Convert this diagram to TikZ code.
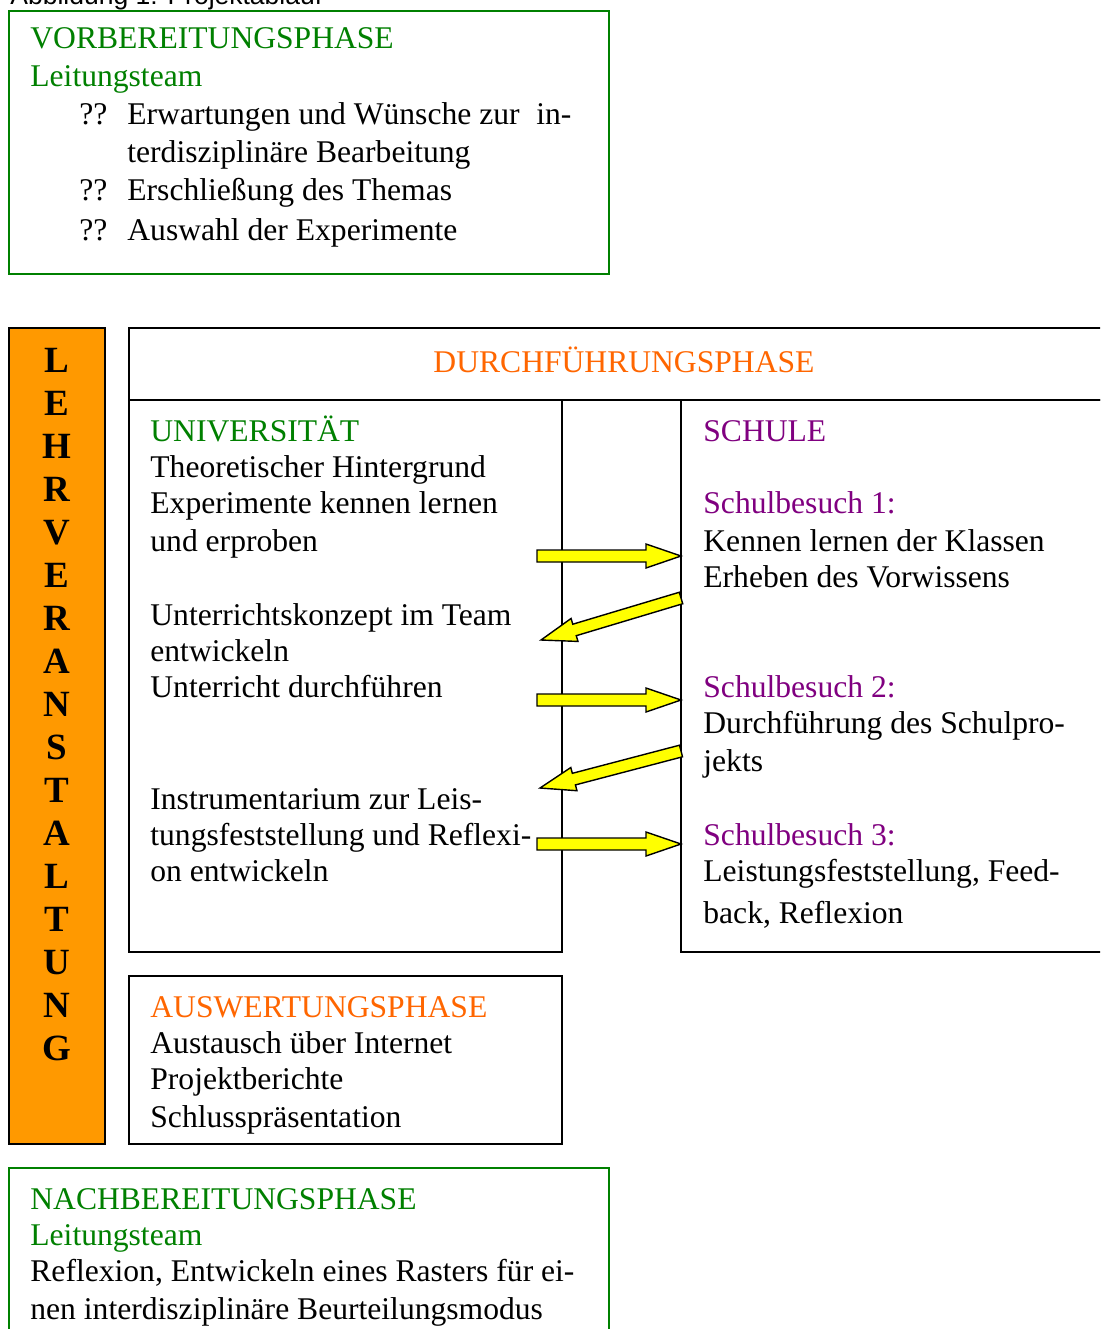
\documentclass[tikz,border=0pt]{standalone}
\usepackage{fontspec}
\setmainfont{Liberation Serif}
\newfontfamily\capfont{Liberation Sans}
\usetikzlibrary{calc}
\definecolor{pgreen}{HTML}{008000}
\definecolor{porange}{HTML}{FF6600}
\definecolor{ppurple}{HTML}{800080}
\definecolor{barorange}{HTML}{FF9900}
\definecolor{ayellow}{HTML}{FFFF00}
\newcommand\blockarrow[2]{%
  \draw[barrow] let \p1=($(#2)-(#1)$), \n1={atan2(\y1,\x1)}, \n2={veclen(\x1,\y1)} in
   ($(#1)+(\n1+90:3pt)$) -- ++(\n1:\n2-17.5pt) -- ++(\n1+90:3pt) -- (#2)
   -- ($(#2)+(\n1:-17.5pt)+(\n1-90:6pt)$) -- ++(\n1+90:3pt)
   -- ($(#1)+(\n1-90:3pt)$) -- cycle;}
\begin{document}
\begin{tikzpicture}[x=0.5pt,y=-0.5pt,
  txt/.style={anchor=base west, inner sep=0pt, font=\fontsize{15.8}{19}\selectfont},
  gtxt/.style={txt, text=pgreen},
  otxt/.style={txt, text=porange},
  ptxt/.style={txt, text=ppurple},
  blackbox/.style={draw=black, line width=0.75pt},
  greenbox/.style={draw=pgreen, line width=0.8pt},
  barletter/.style={anchor=base, inner sep=0pt, font=\fontsize{18.5}{20}\selectfont\bfseries},
  barrow/.style={draw=black, fill=ayellow, line width=0.7pt, line join=miter}]
\useasboundingbox (0,0) rectangle (1100,1329);
\clip (0,0) rectangle (1100,1329);
\fill[white] (0,0) rectangle (1100,1329);

% caption (cut off at top, as in the reference)
\node[anchor=base west, inner sep=0pt, font=\capfont\fontsize{13.25}{15}\selectfont] (cap) at (10,4) {Abbildung 1: Projektablauf};

% Vorbereitungsphase
\draw[greenbox] (9,11) rectangle (609,274);
\node[gtxt] (v1) at (30,48) {VORBEREITUNGSPHASE};
\node[gtxt] (v2) at (30,86) {Leitungsteam};
\node[txt] (v3) at (79,124) {\makebox[24pt][l]{??}\makebox[222pt][l]{Erwartungen und Wünsche zur\hfill in-}};
\node[txt] (v4) at (127,162) {terdisziplinäre Bearbeitung};
\node[txt] (v5) at (79,200) {\makebox[24pt][l]{??}Erschließung des Themas};
\node[txt] (v6) at (79,240) {\makebox[24pt][l]{??}Auswahl der Experimente};

% Lehrveranstaltung bar
\draw[blackbox, fill=barorange] (9,328) rectangle (105,1144);
\foreach \L [count=\i from 0] in {L,E,H,R,V,E,R,A,N,S,T,A,L,T,U,N,G}
  \node[barletter] (lv\i) at (57,372+43*\i) {\L};

% Durchfuehrungsphase
\draw[blackbox] (129,328) rectangle (1110,400);
\draw[blackbox] (129,400) rectangle (562,952);
\draw[blackbox] (681,400) rectangle (1110,952);
\node[otxt, anchor=base] (d0) at (624,372) {DURCHFÜHRUNGSPHASE};

\node[gtxt] (u1) at (150,441) {UNIVERSITÄT};
\node[txt] (u2) at (150,477) {Theoretischer Hintergrund};
\node[txt] (u3) at (150,513) {Experimente kennen lernen};
\node[txt] (u4) at (150,551) {und erproben};
\node[txt] (u5) at (150,625) {Unterrichtskonzept im Team};
\node[txt] (u6) at (150,661) {entwickeln};
\node[txt] (u7) at (150,697) {Unterricht durchführen};
\node[txt] (u8) at (150,809) {Instrumentarium zur Leis-};
\node[txt] (u9) at (150,845) {tungsfeststellung und Reflexi-};
\node[txt] (u10) at (150,881) {on entwickeln};

\node[ptxt] (s1) at (703,441) {SCHULE};
\node[ptxt] (s2) at (703,513) {Schulbesuch 1:};
\node[txt] (s3) at (703,551) {Kennen lernen der Klassen};
\node[txt] (s4) at (703,587) {Erheben des Vorwissens};
\node[ptxt] (s5) at (703,697) {Schulbesuch 2:};
\node[txt] (s6) at (703,733) {Durchführung des Schulpro-};
\node[txt] (s7) at (703,771) {jekts};
\node[ptxt] (s8) at (703,845) {Schulbesuch 3:};
\node[txt] (s9) at (703,881) {Leistungsfeststellung, Feed-};
\node[txt] (s10) at (703,923) {back, Reflexion};

% block arrows
\coordinate (a1s) at (537,556); \coordinate (a1e) at (681,556);
\coordinate (a2s) at (681,598); \coordinate (a2e) at (541,640);
\coordinate (a3s) at (537,700); \coordinate (a3e) at (681,700);
\coordinate (a4s) at (681,751); \coordinate (a4e) at (540,788);
\coordinate (a5s) at (537,844); \coordinate (a5e) at (681,844);
\blockarrow{a1s}{a1e}
\blockarrow{a2s}{a2e}
\blockarrow{a3s}{a3e}
\blockarrow{a4s}{a4e}
\blockarrow{a5s}{a5e}

% Auswertungsphase
\draw[blackbox] (129,976) rectangle (562,1144);
\node[otxt] (w1) at (150,1017) {AUSWERTUNGSPHASE};
\node[txt] (w2) at (150,1053) {Austausch über Internet};
\node[txt] (w3) at (150,1089) {Projektberichte};
\node[txt] (w4) at (150,1127) {Schlusspräsentation};

% Nachbereitungsphase
\draw[greenbox] (9,1168) rectangle (609,1345);
\node[gtxt] (n1) at (30,1209) {NACHBEREITUNGSPHASE};
\node[gtxt] (n2) at (30,1245) {Leitungsteam};
\node[txt] (n3) at (30,1281) {Reflexion, Entwickeln eines Rasters für ei-};
\node[txt] (n4) at (30,1319) {nen interdisziplinäre Beurteilungsmodus};
\end{tikzpicture}
\end{document}
